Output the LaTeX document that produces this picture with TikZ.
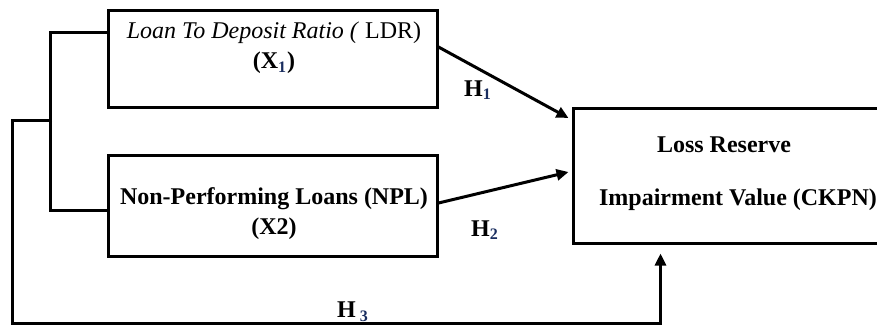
\documentclass[tikz,border=0pt]{standalone}
\usepackage{fontspec}
\setmainfont{Liberation Serif}
\usepackage{xcolor}
\usetikzlibrary{arrows.meta,calc}
\definecolor{subnavy}{RGB}{25,45,95}
\newcommand{\subidx}[1]{\textsubscript{\textcolor{subnavy}{\textbf{#1}}}}

\begin{document}
\begin{tikzpicture}[x=0.5pt, y=-0.5pt, line width=1.5pt,
    varbox/.style={draw, rectangle, inner sep=0pt},
    vartext/.style={font=\fontsize{12}{15}\selectfont\bfseries, align=center, inner sep=0pt},
    hyparrow/.style={-{Triangle[length=6pt,width=5.5pt]}}]
\useasboundingbox (0,0) rectangle (877,327);

\begin{scope}[every node/.style={varbox}]
    \node[minimum width=164.5pt, minimum height=48.5pt] (ldr) at (272.5,58.5) {};
    \node[minimum width=164.5pt, minimum height=50.5pt] (npl) at (272.5,205.5) {};
    \node[minimum width=156pt, minimum height=67.5pt] (ckpn) at (729,175.5) {};
\end{scope}

\begin{scope}[every node/.style={vartext}]
    \node (ldrtext) at (274,48) {\textit{\mdseries Loan To Deposit Ratio (} {\mdseries LDR)}\\(X\subidx{1})};
    \node (npltext) at (274,214) {Non-Performing Loans (NPL)\\(X2)};
    \node (ckpntop) at (724,145) {Loss Reserve};
    \node (ckpnbot) at (738,200) {Impairment Value (CKPN)};
    \node (h1) at (478,90) {H\subidx{1}};
    \node (h2) at (485,230) {H\subidx{2}};
    \node (h3) at (353,312) {H\,\subidx{3}};
\end{scope}

\coordinate (split) at (52,120);
\coordinate (ldrin) at ($(ldr.west)+(0,-26.5)$);
\coordinate (nplin) at ($(npl.west)+(0,4.5)$);
\coordinate (h3end) at ($(ckpn.south west)+(89,9)$);

\draw (ldrin) -- ++(-56,0) |- (nplin);
\draw[hyparrow] ($(ldr.east)+(0,-11.5)$) -- ($(ckpn.west)+(-3,-57.5)$);
\draw[hyparrow] ($(npl.east)+(0,-2.5)$) -- ($(ckpn.west)+(-3,-3.5)$);
\draw[hyparrow] (split) -- ++(-40,0) -- ++(0,203) -| (h3end);
\end{tikzpicture}
\end{document}
